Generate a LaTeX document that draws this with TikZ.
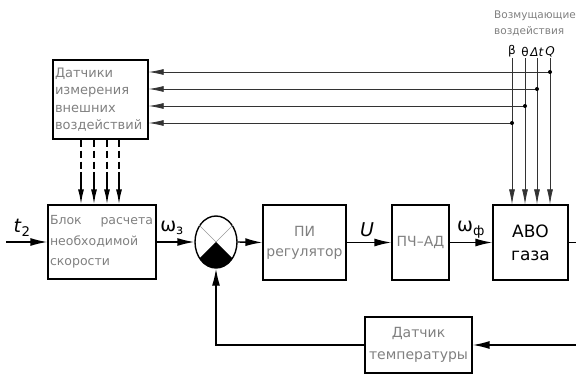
\documentclass[tikz,border=0pt]{standalone}
\usepackage{fontspec}
\setmainfont{DejaVu Sans}
\usetikzlibrary{arrows.meta,positioning,shapes.geometric,calc}

\tikzset{
  blk/.style={draw, line width=1.3pt, text=black!50, inner sep=2pt,
    font=\fontsize{13}{17.5}\selectfont},
  sig/.style={line width=0.8pt, draw=black!80},
  main/.style={line width=1.4pt},
  arr/.style={-{Latex[length=17pt,width=8pt]}},
  sarr/.style={-{Latex[length=15pt,width=6pt]}},
  lbl/.style={font=\fontsize{19}{19}\selectfont, inner sep=0pt},
}

\begin{document}
\begin{tikzpicture}[x=1pt,y=1pt]
  \useasboundingbox (0,0) rectangle (576,378);
  \clip (0,0) rectangle (576,378);

  % Blocks
  \node[blk, text width=91, minimum height=79, align=left] (sens) at (100.5,278.5)
    {Датчики\\измерения\\внешних\\воздействий};
  \node[blk, text width=104, minimum height=74, align=left,
    font=\fontsize{12.5}{20.5}\selectfont] (calc) at (102,136)
    {\makebox[103pt][s]{Блок\hspace{\fill}расчета}\\необходимой\\скорости};
  \node[ellipse, draw, line width=1.4pt, minimum width=42, minimum height=52,
    inner sep=0pt] (sum) at (216,136) {};
  \node[blk, minimum width=83, minimum height=75, align=center,
    font=\fontsize{14}{20}\selectfont] (pi) at (304.5,135.5) {ПИ\\регулятор};
  \node[blk, minimum width=57, minimum height=75,
    font=\fontsize{14}{20}\selectfont] (pch) at (420.5,135.5) {ПЧ–АД};
  \node[blk, minimum width=75, minimum height=75, align=center, text=black,
    font=\fontsize{17}{23}\selectfont] (avo) at (530.5,135.5) {АВО\\газа};
  \node[blk, minimum width=107, minimum height=56, align=center,
    font=\fontsize{14}{22}\selectfont] (temp) at (418.5,33) {Датчик\\температуры};

  % Summing point
  \begin{scope}
    \clip (sum.center) ellipse [x radius=21, y radius=26];
    \fill (sum.center) -- ++(-45:60) -- ++(180:85) -- cycle;
  \end{scope}
  \draw[black!40, line width=0.6pt] (sum.center) -- (sum.45) (sum.center) -- (sum.135);

  % Main path
  \coordinate (in) at (6,136);
  \draw[main,arr] (in) -- (calc.west);
  \draw[main,arr] (calc.east) -- (sum.west);
  \draw[main,arr] (sum.east) -- (pi.west);
  \draw[main,arr] (pi.east) -- (pch.west);
  \draw[main,arr] (pch.east) -- (avo.west);
  \draw[main,arr] (avo.east) -- ++(20,0) |- (temp.east);
  \draw[main,arr] (temp.west) -| (sum.south);

  % Signal labels
  \node[lbl] (t2) at (22,150) {\textit{t}\textsubscript{2}};
  \node[lbl] (w3) at (172,150) {ω\textsubscript{з}};
  \node[lbl] (u) at (367,148) {\textit{U}};
  \node[lbl] (wf) at (471,148) {ω\textsubscript{ф}};

  % Disturbances
  \node[anchor=west, align=left, text=black!50, inner sep=0pt,
    font=\fontsize{10.5}{16}\selectfont] (dist) at (494,355)
    {Возмущающие\\воздействия};
  \foreach \x/\t [count=\i] in {512/β, 525/θ, 537/{\textit{Δt}}, 550/{\textit{Q}}} {
    \coordinate (top\i) at (\x,320);
    \node[above, inner sep=1pt, font=\fontsize{12}{12}\selectfont] (lb\i) at (top\i) {\t};
    \draw[sig,sarr] (top\i) -- (top\i |- avo.north);
  }
  \foreach \x/\y [count=\i] in {550/306, 537/289, 525/272, 512/255} {
    \coordinate (tap\i) at (\x,\y);
    \draw[sig,sarr] (tap\i) -- (sens.east |- tap\i);
    \fill (tap\i) circle (2);
  }

  % Sensor outputs
  \foreach \x [count=\i] in {81,94,107,119} {
    \coordinate (ds\i) at (\x,206);
    \draw[main, dash pattern=on 7pt off 4pt] (ds\i |- sens.south) -- (ds\i);
    \draw[main,sarr] (ds\i) -- (ds\i |- calc.north);
  }
\end{tikzpicture}
\end{document}
